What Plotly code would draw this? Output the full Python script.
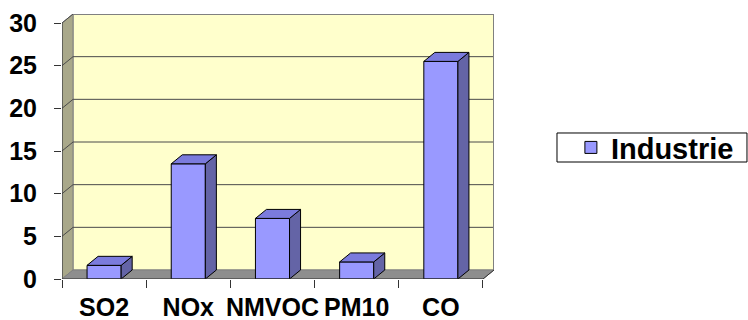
import plotly.graph_objects as go

# Emission data (industry sector)
categories = ["SO2", "NOx", "NMVOC", "PM10", "CO"]
industrie = [1.6, 13.5, 7.1, 2.0, 25.5]
y_ticks = [0, 5, 10, 15, 20, 25, 30]
series_name = "Industrie"

# pseudo-3D geometry, in data units
DX = 0.131      # depth offset along x (category units)
DY = 1.055      # depth offset along y (value units)
BAR_W = 0.405
Y_MAX = 30
X0, X1 = -0.5, len(categories) - 0.5

WALL = "#FFFFCC"
SIDE_WALL = "#A9A88A"
FLOOR = "#8E8E8E"
EDGE = "#808080"
GRID = "#4a4a4a"
BAR_FRONT = "#9999FF"
BAR_TOP = "#7B7BDD"
BAR_SIDE = "#6464A6"

fig = go.Figure()
shapes = []


def path_of(xs, ys, closed=True):
    p = "M " + " L ".join(f"{x},{y}" for x, y in zip(xs, ys))
    return p + (" Z" if closed else "")


def wall(xs, ys, fill, line_color, width=1):
    shapes.append(dict(type="path", xref="x", yref="y", layer="below",
                       path=path_of(xs, ys), fillcolor=fill,
                       line=dict(color=line_color, width=width)))


def wall_line(xs, ys, color, width=1):
    shapes.append(dict(type="path", xref="x", yref="y", layer="below",
                       path=path_of(xs, ys, closed=False),
                       line=dict(color=color, width=width)))


# back wall, left side wall, floor
wall([X0 + DX, X1 + DX, X1 + DX, X0 + DX],
     [DY, DY, Y_MAX + DY, Y_MAX + DY], WALL, EDGE)
wall([X0, X0 + DX, X0 + DX, X0], [0, DY, Y_MAX + DY, Y_MAX], SIDE_WALL, EDGE)
wall([X0, X1, X1 + DX, X0 + DX], [0, 0, DY, DY], FLOOR, EDGE)

# gridlines across the side wall and back wall
for v in y_ticks[1:]:
    wall_line([X0, X0 + DX, X1 + DX], [v, v + DY, v + DY], GRID, 1)

# wall rims
wall_line([X0 + DX, X1 + DX, X1 + DX], [Y_MAX + DY, Y_MAX + DY, DY], EDGE, 2)


def poly(xs, ys, fill, line_color, line_width=1):
    fig.add_trace(go.Scatter(
        x=xs + [xs[0]], y=ys + [ys[0]], mode="lines", fill="toself",
        fillcolor=fill, line=dict(color=line_color, width=line_width),
        hoverinfo="skip", showlegend=False))


def seg(xs, ys, color, width=1):
    fig.add_trace(go.Scatter(
        x=xs, y=ys, mode="lines", line=dict(color=color, width=width),
        hoverinfo="skip", showlegend=False))


# bars: front faces as a bar trace, sides and tops as polygons
fig.add_trace(go.Bar(
    x=list(range(len(categories))), y=industrie, width=BAR_W,
    name=series_name, marker=dict(color=BAR_FRONT,
                                  line=dict(color="#000000", width=1)),
    showlegend=True))

for i, v in enumerate(industrie):
    left, right = i - BAR_W / 2, i + BAR_W / 2
    poly([right, right + DX, right + DX, right],
         [0, DY, v + DY, v], BAR_SIDE, "#000000", 1)
    poly([left, right, right + DX, left + DX],
         [v, v, v + DY, v + DY], BAR_TOP, "#000000", 1)

# front axis lines
seg([X0, X0], [0, Y_MAX], "#333333", 1)
seg([X0, X1, X1 + DX], [0, 0, DY], "#333333", 1)

# legend frame
shapes.append(dict(type="rect", xref="paper", yref="paper",
                   x0=1.1458, x1=1.5856, y0=0.4415, y1=0.551,
                   line=dict(color="#000000", width=1), fillcolor="#FFFFFF",
                   layer="below"))

font_bold = dict(family="Liberation Sans, Arial, sans-serif", size=25,
                 color="#000000", weight="bold")

fig.update_layout(
    width=748, height=320,
    margin=dict(l=62, r=254, t=14, b=41, autoexpand=False),
    paper_bgcolor="#FFFFFF", plot_bgcolor="#FFFFFF",
    barmode="overlay",
    showlegend=True,
    shapes=shapes,
    legend=dict(x=1.178, y=0.496, xanchor="left", yanchor="middle",
                borderwidth=0, bgcolor="rgba(0,0,0,0)",
                font=dict(family="Liberation Sans, Arial, sans-serif",
                          size=29, color="#000000", weight="bold")),
    xaxis=dict(range=[X0, X1 + DX], tickmode="array",
               tickvals=list(range(len(categories))), ticktext=categories,
               ticks="", showgrid=False, zeroline=False, showline=False,
               tickfont=font_bold, ticklabelstandoff=11, fixedrange=True,
               automargin=False,
               minor=dict(tickmode="array",
                          tickvals=[k - 0.5 for k in range(len(categories) + 1)],
                          ticks="outside", ticklen=8, tickcolor="#333333",
                          showgrid=False)),
    yaxis=dict(range=[0, Y_MAX + DY], tickmode="array", tickvals=y_ticks,
               ticks="outside", ticklen=7, tickcolor="#333333",
               showgrid=False, zeroline=False, showline=False,
               tickfont=font_bold, ticklabelstandoff=12, fixedrange=True,
               automargin=False),
)

fig.write_html("out.html")
